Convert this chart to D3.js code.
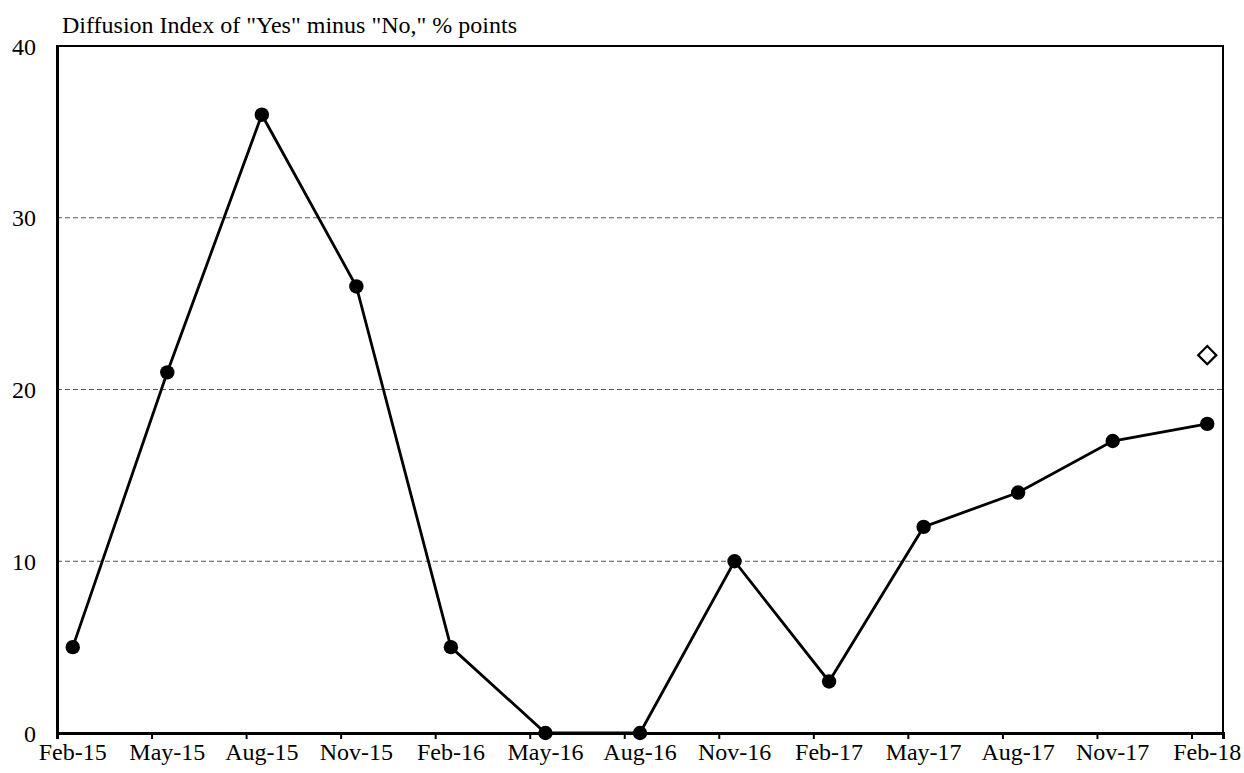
<!DOCTYPE html>
<html>
<head>
<meta charset="utf-8">
<script src="https://cdn.jsdelivr.net/npm/d3@7"></script>
<style>
  body { margin: 0; background: #fff; }
  svg text { font-family: "Liberation Serif", "Times New Roman", serif; fill: #000; }
</style>
</head>
<body>
<svg id="chart"></svg>
<script>
// quarterly survey readings
var categories = ["Feb-15", "May-15", "Aug-15", "Nov-15", "Feb-16", "May-16", "Aug-16",
                  "Nov-16", "Feb-17", "May-17", "Aug-17", "Nov-17", "Feb-18"];
var values = [5, 21, 36, 26, 5, 0, 0, 10, 3, 12, 14, 17, 18];
// expectation point shown as open diamond
var outlookLabel = "Feb-18";
var outlookValue = 22;
var yTicks = [0, 10, 20, 30, 40];
var title = 'Diffusion Index of "Yes" minus "No," % points';

var width = 1244,
    height = 773,
    plotL = 57, plotR = 1223, plotT = 46, plotB = 733;

var svg = d3.select("#chart")
    .attr("width", width)
    .attr("height", height);

// month based axis, 3 months between categories, one spare month at the end
var months = (categories.length - 1) * 3 + 1;
var x = d3.scaleLinear().domain([0, months]).range([plotL, plotR]);
var y = d3.scaleLinear().domain([0, 40]).range([plotB, plotT]);

function px(i) { return x(i * 3 + 0.5); }

// gridlines
svg.append("g")
    .selectAll("line")
    .data(yTicks.filter(function(d) { return d > 0 && d < 40; }))
    .enter().append("line")
    .attr("x1", plotL).attr("x2", plotR)
    .attr("y1", function(d) { return y(d); })
    .attr("y2", function(d) { return y(d); })
    .attr("stroke", "#555")
    .attr("stroke-width", 1)
    .attr("stroke-dasharray", "5,3");

// frame
svg.append("rect")
    .attr("x", plotL).attr("y", plotT)
    .attr("width", plotR - plotL).attr("height", plotB - plotT)
    .attr("fill", "none")
    .attr("stroke", "#000")
    .attr("stroke-width", 2);

// y axis
var yAxis = svg.append("g")
    .attr("transform", "translate(" + plotL + ",0)")
    .call(d3.axisLeft(y).tickValues(yTicks).tickSize(0).tickPadding(21));
yAxis.select(".domain").attr("stroke", "#000").attr("stroke-width", 3);
yAxis.selectAll("text").style("font-size", "24px").attr("dy", "0.34em");

// x axis ticks
var xAxis = svg.append("g")
    .attr("transform", "translate(0," + plotB + ")")
    .call(d3.axisBottom(x)
        .tickValues(d3.range(0, months, 3))
        .tickSize(6)
        .tickFormat(""));
xAxis.select(".domain").attr("stroke", "#000").attr("stroke-width", 3);
xAxis.selectAll(".tick line").attr("stroke", "#000").attr("stroke-width", 2);

// x labels sit at the middle of each month
svg.append("g")
    .selectAll("text")
    .data(categories)
    .enter().append("text")
    .attr("x", function(d, i) { return px(i); })
    .attr("y", 760)
    .attr("text-anchor", "middle")
    .style("font-size", "24px")
    .text(function(d) { return d; });

// title
svg.append("text")
    .attr("x", 62)
    .attr("y", 33)
    .style("font-size", "24px")
    .text(title);

// line + markers
var line = d3.line()
    .x(function(d, i) { return px(i); })
    .y(function(d) { return y(d); });

svg.append("path")
    .datum(values)
    .attr("d", line)
    .attr("fill", "none")
    .attr("stroke", "#000")
    .attr("stroke-width", 2.8);

svg.append("g")
    .selectAll("circle")
    .data(values)
    .enter().append("circle")
    .attr("cx", function(d, i) { return px(i); })
    .attr("cy", function(d) { return y(d); })
    .attr("r", 7.2)
    .attr("fill", "#000");

var oi = categories.indexOf(outlookLabel);
svg.append("path")
    .attr("d", d3.symbol().type(d3.symbolDiamond2).size(210))
    .attr("transform", "translate(" + px(oi) + "," + y(outlookValue) + ")")
    .attr("fill", "#fff")
    .attr("stroke", "#000")
    .attr("stroke-width", 2.2);
</script>
</body>
</html>
